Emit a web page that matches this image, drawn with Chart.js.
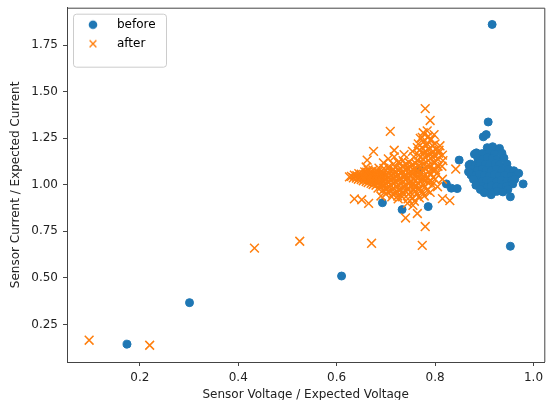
<!DOCTYPE html>
<html>
<head>
<meta charset="utf-8">
<script src="https://cdn.jsdelivr.net/npm/chart.js@4/dist/chart.umd.min.js"></script>
<style>
  html, body { margin: 0; padding: 0; background: #fff; }
  #chart1 { display: block; }
</style>
</head>
<body>
<canvas id="chart1" width="552" height="400"></canvas>
<script>
const seriesNames = ['before', 'after'];

// [voltage ratio, current ratio]
const beforePoints = [
  [0.174, 0.144], [0.301, 0.367], [0.610, 0.510], [0.916, 1.862], [0.953, 0.670],
  [0.693, 0.904], [0.733, 0.867], [0.786, 0.883], [0.768, 1.080],
  [0.823, 1.005], [0.833, 0.982], [0.845, 0.980], [0.849, 1.133],
  [0.908, 1.338], [0.898, 1.258], [0.904, 1.270], [0.926, 1.190],
  [0.979, 1.005], [0.953, 0.936], [0.869, 1.106], [0.880, 1.165],
  [0.906, 1.200], [0.917, 1.205], [0.931, 1.196],
  [0.884, 1.172], [0.896, 1.168], [0.911, 1.175], [0.921, 1.166], [0.936, 1.170],
  [0.887, 1.142], [0.897, 1.138], [0.906, 1.145], [0.916, 1.140], [0.926, 1.136], [0.940, 1.144],
  [0.872, 1.112], [0.882, 1.108], [0.891, 1.115], [0.902, 1.110], [0.911, 1.106], [0.922, 1.114], [0.931, 1.108], [0.946, 1.112],
  [0.876, 1.082], [0.886, 1.078], [0.896, 1.085], [0.905, 1.080], [0.915, 1.076], [0.925, 1.084], [0.936, 1.079], [0.949, 1.083], [0.960, 1.076],
  [0.873, 1.053], [0.881, 1.049], [0.890, 1.056], [0.900, 1.050], [0.910, 1.046], [0.920, 1.054], [0.930, 1.048], [0.941, 1.052], [0.955, 1.047], [0.965, 1.053],
  [0.886, 1.022], [0.896, 1.018], [0.905, 1.025], [0.915, 1.020], [0.925, 1.016], [0.935, 1.023], [0.946, 1.019], [0.956, 1.024],
  [0.896, 0.992], [0.906, 0.988], [0.915, 0.995], [0.925, 0.990], [0.935, 0.986], [0.945, 0.993],
  [0.906, 0.962], [0.916, 0.958], [0.926, 0.965], [0.914, 0.947],
  [0.970, 1.062], [0.962, 1.030], [0.958, 1.005], [0.948, 0.975], [0.938, 0.962],
  [0.878, 1.030], [0.868, 1.070], [0.883, 0.998], [0.892, 0.975], [0.900, 0.958],
];

const afterPoints = [
  [0.097, 0.165], [0.220, 0.138], [0.433, 0.660], [0.525, 0.697], [0.671, 0.686], [0.774, 0.675],
  [0.780, 0.776], [0.740, 0.822], [0.764, 0.846], [0.636, 0.925], [0.651, 0.920], [0.665, 0.900],
  [0.830, 0.915], [0.842, 1.085], [0.780, 1.410], [0.790, 1.346], [0.784, 1.290], [0.709, 1.287],
  [0.675, 1.180], [0.717, 1.186], [0.662, 1.133], [0.660, 1.096], [0.774, 1.255], [0.792, 1.245],
  [0.782, 1.210], [0.802, 1.190], [0.808, 1.186], [0.768, 1.186], [0.815, 1.030], [0.805, 0.990],
  [0.815, 0.926], [0.733, 0.936],
  [0.626, 1.043], [0.634, 1.038], [0.636, 1.052],
  [0.644, 1.030], [0.646, 1.046], [0.645, 1.060],
  [0.654, 1.022], [0.656, 1.040], [0.655, 1.056], [0.657, 1.070],
  [0.664, 1.012], [0.666, 1.031], [0.665, 1.049], [0.667, 1.064], [0.664, 1.080],
  [0.674, 1.002], [0.676, 1.021], [0.675, 1.041], [0.677, 1.060], [0.674, 1.079],
  [0.684, 0.982], [0.686, 1.010], [0.685, 1.030], [0.687, 1.050], [0.684, 1.071], [0.686, 1.090],
  [0.694, 0.970], [0.696, 1.001], [0.695, 1.021], [0.697, 1.041], [0.694, 1.062], [0.696, 1.088], [0.695, 1.118],
  [0.704, 0.962], [0.706, 0.990], [0.705, 1.018], [0.707, 1.042], [0.704, 1.068], [0.706, 1.098], [0.705, 1.140],
  [0.714, 0.950], [0.716, 0.980], [0.715, 1.010], [0.717, 1.038], [0.714, 1.060], [0.716, 1.082], [0.715, 1.110], [0.717, 1.150],
  [0.724, 0.940], [0.726, 0.972], [0.725, 1.000], [0.727, 1.030], [0.724, 1.052], [0.726, 1.080], [0.725, 1.120],
  [0.734, 0.960], [0.736, 0.990], [0.735, 1.020], [0.737, 1.048], [0.734, 1.070], [0.736, 1.100], [0.735, 1.130], [0.737, 1.162],
  [0.744, 0.900], [0.746, 0.950], [0.745, 0.980], [0.747, 1.010], [0.744, 1.040], [0.746, 1.062], [0.745, 1.090], [0.747, 1.120],
  [0.754, 0.930], [0.756, 0.970], [0.755, 1.000], [0.757, 1.030], [0.754, 1.060], [0.756, 1.080], [0.755, 1.110], [0.757, 1.150], [0.754, 1.180],
  [0.764, 0.950], [0.766, 0.980], [0.765, 1.010], [0.767, 1.040], [0.764, 1.070], [0.766, 1.100], [0.765, 1.130], [0.767, 1.160], [0.764, 1.200], [0.766, 1.220],
  [0.774, 0.960], [0.776, 1.000], [0.775, 1.030], [0.777, 1.050], [0.774, 1.080], [0.776, 1.110], [0.775, 1.140], [0.777, 1.170], [0.774, 1.200], [0.776, 1.230],
  [0.784, 0.970], [0.786, 1.010], [0.785, 1.040], [0.787, 1.070], [0.784, 1.100], [0.786, 1.130], [0.785, 1.160], [0.787, 1.190], [0.784, 1.220], [0.786, 1.260],
  [0.794, 1.000], [0.796, 1.040], [0.795, 1.080], [0.797, 1.120], [0.794, 1.150], [0.796, 1.180], [0.795, 1.210],
  [0.804, 1.060], [0.806, 1.100], [0.805, 1.140], [0.807, 1.170],
  [0.814, 1.100], [0.816, 1.130], [0.815, 1.160],
  [0.630, 1.046], [0.640, 1.036], [0.641, 1.050], [0.650, 1.028], [0.651, 1.044], [0.650, 1.058],
  [0.660, 1.018], [0.661, 1.036], [0.660, 1.052], [0.661, 1.068], [0.670, 1.008], [0.671, 1.026],
  [0.670, 1.044], [0.671, 1.058], [0.680, 0.998], [0.681, 1.016], [0.680, 1.036], [0.681, 1.054],
  [0.680, 1.072], [0.690, 0.988], [0.691, 1.008], [0.690, 1.028], [0.691, 1.046], [0.690, 1.066],
  [0.700, 0.980], [0.701, 1.004], [0.700, 1.026], [0.701, 1.050], [0.700, 1.076], [0.710, 0.968],
  [0.711, 0.996], [0.710, 1.024], [0.711, 1.048], [0.710, 1.072], [0.720, 0.958], [0.721, 0.990],
  [0.720, 1.016], [0.721, 1.044], [0.720, 1.066], [0.720, 1.096], [0.730, 0.976], [0.731, 1.006],
  [0.730, 1.034], [0.731, 1.060], [0.730, 1.088], [0.740, 0.968], [0.741, 0.996], [0.740, 1.026],
  [0.741, 1.054], [0.740, 1.080], [0.740, 1.110], [0.750, 0.960], [0.751, 0.990], [0.750, 1.016],
  [0.751, 1.046], [0.750, 1.070], [0.750, 1.096], [0.760, 0.966], [0.761, 0.996], [0.760, 1.024],
  [0.761, 1.054], [0.760, 1.086], [0.760, 1.116], [0.770, 0.980], [0.771, 1.016], [0.770, 1.060],
  [0.771, 1.096], [0.770, 1.150], [0.780, 0.990], [0.781, 1.026], [0.780, 1.086], [0.781, 1.146],
  [0.780, 1.180], [0.790, 1.020], [0.791, 1.060], [0.790, 1.100], [0.791, 1.166], [0.800, 1.030],
  [0.801, 1.080], [0.800, 1.120], [0.800, 1.160],
  [0.700, 0.950], [0.712, 0.935], [0.725, 0.925], [0.745, 0.925], [0.758, 0.912], [0.768, 0.930],
  [0.778, 0.940], [0.790, 0.960], [0.755, 0.890], [0.690, 0.940],
  [0.790, 1.240], [0.800, 1.220], [0.810, 1.210], [0.798, 1.270], [0.776, 1.280], [0.770, 1.250],
];

const xTicks = [0.2, 0.4, 0.6, 0.8, 1.0];
const yTicks = [0.25, 0.5, 0.75, 1.0, 1.25, 1.5, 1.75];
const xTitle = 'Sensor Voltage / Expected Voltage';
const yTitle = 'Sensor Current / Expected Current';

const blue = '#1f77b4';
const orange = '#ff7f0e';
const axisColor = '#444444';
const textColor = '#222222';

Chart.defaults.font.family = '"DejaVu Sans", sans-serif';
Chart.defaults.font.size = 12;
Chart.defaults.color = textColor;

// small marker images for the legend so the handle can be wider than the marker
function legendIcon(kind, color) {
  const c = document.createElement('canvas');
  c.width = 12;
  c.height = 12;
  const g = c.getContext('2d');
  g.strokeStyle = color;
  g.fillStyle = color;
  if (kind === 'circle') {
    g.beginPath();
    g.arc(6, 6, 4.3, 0, Math.PI * 2);
    g.fill();
  } else {
    g.lineWidth = 1.4;
    g.beginPath();
    g.moveTo(2.6, 2.6); g.lineTo(9.4, 9.4);
    g.moveTo(9.4, 2.6); g.lineTo(2.6, 9.4);
    g.stroke();
  }
  return c;
}
const icons = [legendIcon('circle', blue), legendIcon('cross', orange)];

const framePlugin = {
  id: 'frame',
  afterLayout(chart) {
    const a = chart.chartArea;
    const lg = chart.legend;
    lg.left = a.left + 1;
    lg.top = a.top + 4;
    lg.right = lg.left + lg.width;
    lg.bottom = lg.top + lg.height;
  },
  beforeDraw(chart) {
    const a = chart.chartArea;
    const ctx = chart.ctx;
    ctx.save();
    ctx.fillStyle = 'rgba(255,255,255,0.8)';
    ctx.strokeStyle = '#cccccc';
    ctx.lineWidth = 1;
    ctx.beginPath();
    ctx.roundRect(a.left + 6.5, a.top + 6.5, 93, 53, 3);
    ctx.fill();
    ctx.stroke();
    ctx.restore();
  },
  afterDatasetsDraw(chart) {
    const a = chart.chartArea;
    const ctx = chart.ctx;
    ctx.save();
    ctx.strokeStyle = axisColor;
    ctx.lineWidth = 1;
    ctx.beginPath();
    ctx.moveTo(a.left, a.top + 0.5);
    ctx.lineTo(a.right + 0.5, a.top + 0.5);
    ctx.lineTo(a.right + 0.5, a.bottom);
    ctx.stroke();
    ctx.restore();
  },
};

const ctx = document.getElementById('chart1').getContext('2d');
const myChart = new Chart(ctx, {
  type: 'scatter',
  data: {
    datasets: [
      {
        label: seriesNames[0],
        data: beforePoints.map(([x, y]) => ({ x, y })),
        pointStyle: 'circle',
        pointRadius: 4,
        pointBorderWidth: 1,
        backgroundColor: blue,
        borderColor: blue,
        order: 2,
      },
      {
        label: seriesNames[1],
        data: afterPoints.map(([x, y]) => ({ x, y })),
        pointStyle: 'crossRot',
        pointRadius: 6.2,
        pointBorderWidth: 1.5,
        backgroundColor: orange,
        borderColor: orange,
        order: 1,
      },
    ],
  },
  options: {
    responsive: false,
    animation: false,
    events: [],
    layout: { padding: { left: 0, top: 5, right: 7, bottom: 0 } },
    plugins: {
      tooltip: { enabled: false },
      legend: {
        position: 'chartArea',
        align: 'start',
        labels: {
          usePointStyle: true,
          pointStyleWidth: 36,
          padding: 7,
          color: textColor,
          font: { size: 12 },
          generateLabels: (chart) => chart.data.datasets.map((ds, i) => ({
            text: ds.label,
            datasetIndex: i,
            pointStyle: icons[i],
            fillStyle: ds.backgroundColor,
            strokeStyle: ds.borderColor,
            lineWidth: 0,
            hidden: false,
          })),
        },
      },
    },
    scales: {
      x: {
        type: 'linear',
        min: 0.052,
        max: 1.022,
        afterBuildTicks: (s) => { s.ticks = xTicks.map((v) => ({ value: v })); },
        afterFit: (s) => { s.height = 38; s.paddingLeft = 0; s.paddingRight = 0; },
        grid: { drawOnChartArea: false, drawTicks: true, tickLength: 4, color: axisColor, lineWidth: 1 },
        border: { display: true, color: axisColor, width: 1 },
        ticks: { padding: 5, color: textColor, maxRotation: 0, autoSkip: false, callback: (v) => v.toFixed(1) },
        title: { display: true, text: xTitle, color: textColor, font: { size: 12 }, padding: { top: 0, bottom: -2 } },
      },
      y: {
        type: 'linear',
        min: 0.048,
        max: 1.952,
        afterBuildTicks: (s) => { s.ticks = yTicks.map((v) => ({ value: v })); },
        afterFit: (s) => { s.width = 67; s.paddingTop = 0; s.paddingBottom = 0; },
        grid: { drawOnChartArea: false, drawTicks: true, tickLength: 4, color: axisColor, lineWidth: 1 },
        border: { display: true, color: axisColor, width: 1 },
        ticks: { padding: 5, color: textColor, autoSkip: false, callback: (v) => v.toFixed(2) },
        title: { display: true, text: yTitle, color: textColor, font: { size: 12 }, padding: { top: 9, bottom: 0 } },
      },
    },
  },
  plugins: [framePlugin],
});
</script>
</body>
</html>
